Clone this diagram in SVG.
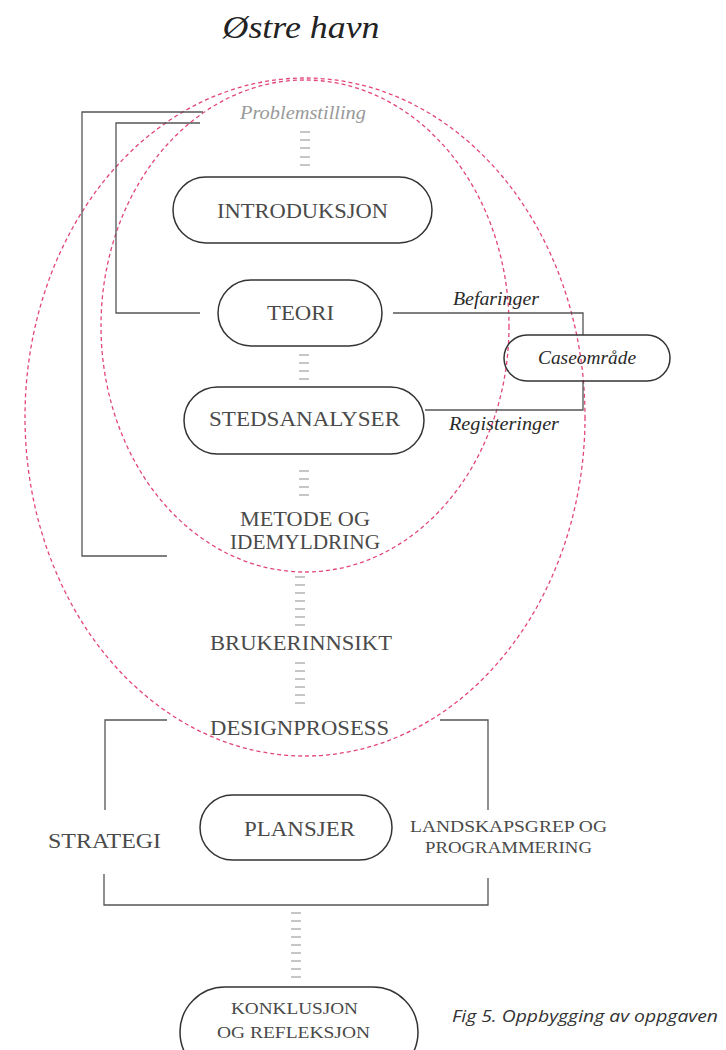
<svg xmlns="http://www.w3.org/2000/svg" width="726" height="1050" viewBox="0 0 726 1050">
<style>
.ell{fill:none;stroke:#e2457c;stroke-width:1.3;stroke-dasharray:4 3}
.br{fill:none;stroke:#555;stroke-width:1.3}
.tick{fill:none;stroke:#b4b4b4;stroke-width:1.3}
.pill{fill:none;stroke:#333;stroke-width:1.5}
.cap{font-family:"Liberation Serif","Times New Roman",serif;font-size:20px;fill:#4a4a4a;text-anchor:middle}
.it{font-family:"Liberation Serif","Times New Roman",serif;font-style:italic;font-size:19px;fill:#2a2a2a;text-anchor:middle}
</style>
<rect width="726" height="1050" fill="#fff"/>
<text x="301" y="38" font-family="Liberation Serif, serif" font-style="italic" font-size="32" fill="#222" text-anchor="middle" textLength="157" lengthAdjust="spacingAndGlyphs">Østre havn</text>
<g id="regions">
<ellipse class="ell" cx="305" cy="417" rx="280" ry="339"/>
<ellipse class="ell" cx="305" cy="326" rx="204" ry="246"/>
</g>
<g id="connectors">
<path class="br" d="M203 112H82V556H167"/>
<path class="br" d="M200 123H116V313H200"/>
<path class="br" d="M393 313H583V335"/>
<path class="br" d="M425 410H583V381"/>
<path class="br" d="M167 720H105V810"/>
<path class="br" d="M440 720H488V810"/>
<path class="br" d="M104 874V905H488V878"/>
<path class="tick" d="M300 132h10M300 140h10M300 148h10M300 157h10M300 165h10"/>
<path class="tick" d="M299 355h10M299 363h10M299 371h10M299 379h10"/>
<path class="tick" d="M299 471h10M299 479h10M299 487h10M299 495h10"/>
<path class="tick" d="M295 577h10M295 585h10M295 593h10M295 601h10M295 609h10M295 617h10M295 625h10"/>
<path class="tick" d="M295 663h10M295 671h10M295 679h10M295 687h10M295 695h10M295 703h10"/>
<path class="tick" d="M291 913h10M291 921h10M291 929h10M291 937h10M291 945h10M291 953h10M291 961h10M291 969h10M291 977h10"/>
<text class="it" x="496" y="305" textLength="86" lengthAdjust="spacingAndGlyphs">Befaringer</text>
<text class="it" x="504" y="430" textLength="110" lengthAdjust="spacingAndGlyphs">Registeringer</text>
</g>
<g id="problemstilling">
<text class="it" x="303" y="119" style="fill:#999" textLength="126" lengthAdjust="spacingAndGlyphs">Problemstilling</text>
</g>
<g id="introduksjon">
<rect class="pill" x="173" y="177" width="259" height="66" rx="33"/>
<text class="cap" x="302.5" y="218" textLength="171" lengthAdjust="spacingAndGlyphs">INTRODUKSJON</text>
</g>
<g id="teori">
<rect class="pill" x="218" y="280" width="164" height="66" rx="33"/>
<text class="cap" x="300.5" y="320" textLength="67" lengthAdjust="spacingAndGlyphs">TEORI</text>
</g>
<g id="stedsanalyser">
<rect class="pill" x="184" y="387" width="240" height="67" rx="33.5"/>
<text class="cap" x="304.5" y="426" textLength="191" lengthAdjust="spacingAndGlyphs">STEDSANALYSER</text>
</g>
<g id="caseomrade">
<rect class="pill" x="504" y="335" width="166" height="46" rx="23"/>
<text class="it" x="587" y="364" textLength="98" lengthAdjust="spacingAndGlyphs">Caseområde</text>
</g>
<g id="metode">
<text class="cap" x="305" y="526" textLength="130" lengthAdjust="spacingAndGlyphs">METODE OG</text>
<text class="cap" x="305" y="549" textLength="150" lengthAdjust="spacingAndGlyphs">IDEMYLDRING</text>
</g>
<g id="brukerinnsikt">
<text class="cap" x="301" y="650" textLength="182" lengthAdjust="spacingAndGlyphs">BRUKERINNSIKT</text>
</g>
<g id="designprosess">
<text class="cap" x="299.5" y="735" textLength="179" lengthAdjust="spacingAndGlyphs">DESIGNPROSESS</text>
</g>
<g id="strategi">
<text class="cap" x="104.5" y="848" textLength="113" lengthAdjust="spacingAndGlyphs">STRATEGI</text>
</g>
<g id="plansjer">
<rect class="pill" x="200" y="795" width="192" height="65" rx="32.5"/>
<text class="cap" x="299.5" y="836" textLength="111" lengthAdjust="spacingAndGlyphs">PLANSJER</text>
</g>
<g id="landskapsgrep">
<text class="cap" x="508.5" y="832" style="font-size:17px" textLength="197" lengthAdjust="spacingAndGlyphs">LANDSKAPSGREP OG</text>
<text class="cap" x="508.5" y="853" style="font-size:17px" textLength="167" lengthAdjust="spacingAndGlyphs">PROGRAMMERING</text>
</g>
<g id="konklusjon">
<rect class="pill" x="180" y="987" width="238" height="90" rx="45"/>
<text class="cap" x="294.5" y="1014" style="font-size:17px" textLength="127" lengthAdjust="spacingAndGlyphs">KONKLUSJON</text>
<text class="cap" x="293.5" y="1038" style="font-size:17px" textLength="153" lengthAdjust="spacingAndGlyphs">OG REFLEKSJON</text>
</g>
<text x="452" y="1022" font-family="Open Sans, Noto Sans, sans-serif" font-style="italic" font-size="16.5" fill="#333" textLength="266" lengthAdjust="spacingAndGlyphs">Fig 5. Oppbygging av oppgaven</text>
</svg>
